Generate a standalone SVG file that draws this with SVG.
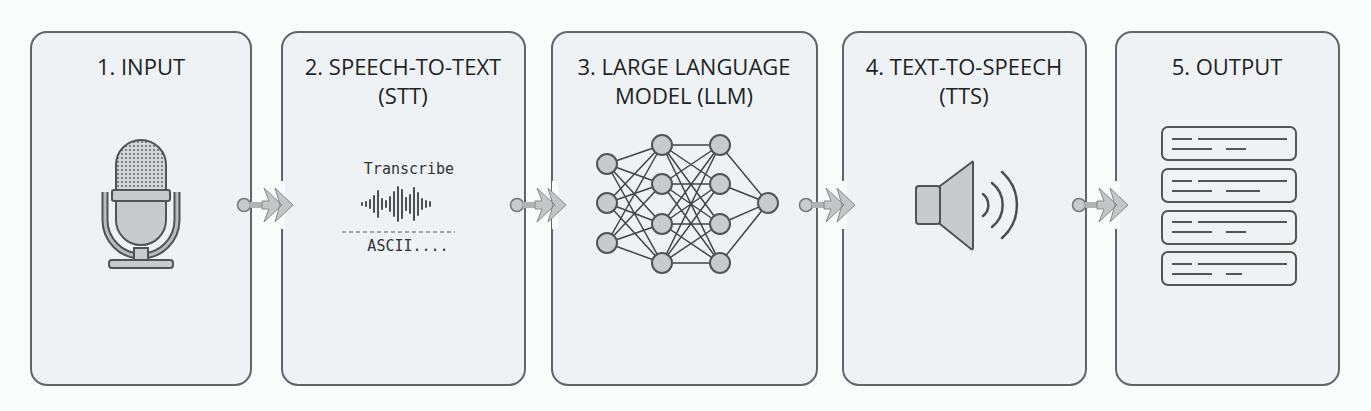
<svg xmlns="http://www.w3.org/2000/svg" width="1371" height="411" viewBox="0 0 1371 411">
<style>
.box{fill:#eef2f4;stroke:#5f6668;stroke-width:2}
.t{font-family:"Open Sans","Liberation Sans",sans-serif;font-size:22px;fill:#222;text-anchor:middle}
.m{font-family:"DejaVu Sans Mono","Liberation Mono",monospace;fill:#333;text-anchor:middle}
.ic{fill:#c8cbcc;stroke:#4f5557;stroke-width:2}
.ln{stroke:#3f4446;stroke-width:1.5}
.wv{stroke:#4a4f51;stroke-width:2;stroke-linecap:round}
.tl{stroke:#555;stroke-width:2}
</style>
<defs>
<pattern id="dots" width="4" height="4" patternUnits="userSpaceOnUse"><rect width="4" height="4" fill="#d4d7d8"/><circle cx="2" cy="2" r="0.9" fill="#555"/></pattern>
<g id="conn">
<rect x="-3" y="-24" width="6" height="48" fill="#fafbfb" transform="translate(38 0)"/>
<circle cx="0" cy="0" r="6.5" fill="#c8cbcc" stroke="#777" stroke-width="1.5"/>
<line x1="6" y1="0" x2="22" y2="0" stroke="#b0b4b5" stroke-width="6"/>
<path d="M20 -17 L38 0 L20 17 L25 4 L18 4 L18 -4 L25 -4 Z M31 -17 L49 0 L31 17 L36 0 Z" fill="#c2c6c7" stroke="#888" stroke-width="1"/>
</g>
</defs>
<rect width="1371" height="411" fill="#fafbfb"/>
<g id="n1"><rect class="box" x="31" y="32" width="220" height="353" rx="16"/><text class="t" x="141" y="75">1. INPUT</text>
<rect x="116" y="140" width="50" height="76" rx="25" fill="url(#dots)" stroke="#4f5557" stroke-width="2"/>
<path d="M105 192 V220 a36 36 0 0 0 72 0 V192" fill="none" stroke="#4f5557" stroke-width="7"/>
<path d="M105 192 V220 a36 36 0 0 0 72 0 V192" fill="none" stroke="#bbb" stroke-width="3"/>
<path class="ic" d="M116 200 H166 V220 a25 25 0 0 1 -50 0 Z" fill="#c8cbcc"/>
<rect x="112" y="190" width="58" height="11" rx="2" class="ic"/>
<rect x="134" y="248" width="14" height="14" class="ic"/><rect x="109" y="260" width="64" height="8" rx="3" class="ic"/>
</g>
<g id="n2"><rect class="box" x="282" y="32" width="243" height="353" rx="16"/><text class="t" x="403" y="75">2. SPEECH-TO-TEXT</text><text class="t" x="403" y="104">(STT)</text>
<text class="m" x="409" y="174" font-size="15">Transcribe</text>
<path class="wv" d="M362 203v2M366 202v4M370 200v8M374 196v16M378 191v26M382 199v10M386 201v6M390 197v14M394 192v24M398 187v34M402 190v28M406 198v12M410 195v18M414 188v32M418 193v22M422 199v10M426 201v6M430 202v4"/>
<line x1="342" y1="232" x2="455" y2="232" stroke="#555" stroke-dasharray="4 3"/>
<text class="m" x="408" y="251" font-size="15">ASCII....</text>
</g>
<g id="n3"><rect class="box" x="552" y="32" width="265" height="353" rx="16"/><text class="t" x="684" y="75">3. LARGE LANGUAGE</text><text class="t" x="684" y="104">MODEL (LLM)</text>
<g class="ln">
<path d="M607 164L662 145M607 164L662 184M607 164L662 224M607 164L662 263M607 203L662 145M607 203L662 184M607 203L662 224M607 203L662 263M607 243L662 145M607 243L662 184M607 243L662 224M607 243L662 263"/>
<path d="M662 145L720 145M662 145L720 184M662 145L720 224M662 145L720 263M662 184L720 145M662 184L720 184M662 184L720 224M662 184L720 263M662 224L720 145M662 224L720 184M662 224L720 224M662 224L720 263M662 263L720 145M662 263L720 184M662 263L720 224M662 263L720 263"/>
<path d="M720 145L768 203M720 184L768 203M720 224L768 203M720 263L768 203"/>
</g>
<g class="ic"><circle cx="607" cy="164" r="10"/><circle cx="607" cy="203" r="10"/><circle cx="607" cy="243" r="10"/>
<circle cx="662" cy="145" r="10"/><circle cx="662" cy="184" r="10"/><circle cx="662" cy="224" r="10"/><circle cx="662" cy="263" r="10"/>
<circle cx="720" cy="145" r="10"/><circle cx="720" cy="184" r="10"/><circle cx="720" cy="224" r="10"/><circle cx="720" cy="263" r="10"/>
<circle cx="768" cy="203" r="10"/></g>
</g>
<g id="n4"><rect class="box" x="843" y="32" width="243" height="353" rx="16"/><text class="t" x="964" y="75">4. TEXT-TO-SPEECH</text><text class="t" x="964" y="104">(TTS)</text>
<rect class="ic" x="916" y="186" width="24" height="38" rx="3"/>
<path class="ic" d="M940 186 L972 162 Q973 161 973 163 V248 Q973 250 971 249 L940 224 Z"/>
<g fill="none" stroke="#4a4f51" stroke-width="2.5" stroke-linecap="round"><path d="M983 194a14 14 0 0 1 0 22"/><path d="M992 183a28 28 0 0 1 0 44"/><path d="M1002 172a44 44 0 0 1 0 66"/></g>
</g>
<g id="n5"><rect class="box" x="1116" y="32" width="223" height="353" rx="16"/><text class="t" x="1227" y="75">5. OUTPUT</text>
<g fill="none" stroke="#555" stroke-width="2"><rect x="1162" y="127" width="134" height="33" rx="6"/><rect x="1162" y="169" width="134" height="33" rx="6"/><rect x="1162" y="211" width="134" height="33" rx="6"/><rect x="1162" y="252" width="134" height="33" rx="6"/></g>
<path class="tl" d="M1172 139h20M1198 139h89M1172 149h40M1226 149h20M1172 181h20M1198 181h89M1172 191h40M1226 191h34M1172 222h20M1198 222h89M1172 232h40M1226 232h20M1172 264h20M1198 264h89M1172 274h40M1226 274h16"/>
</g>
<g id="connectors">
<use href="#conn" x="244" y="205"/>
<use href="#conn" x="517" y="205"/>
<use href="#conn" x="806" y="205"/>
<use href="#conn" x="1079" y="205"/>
</g>
</svg>
